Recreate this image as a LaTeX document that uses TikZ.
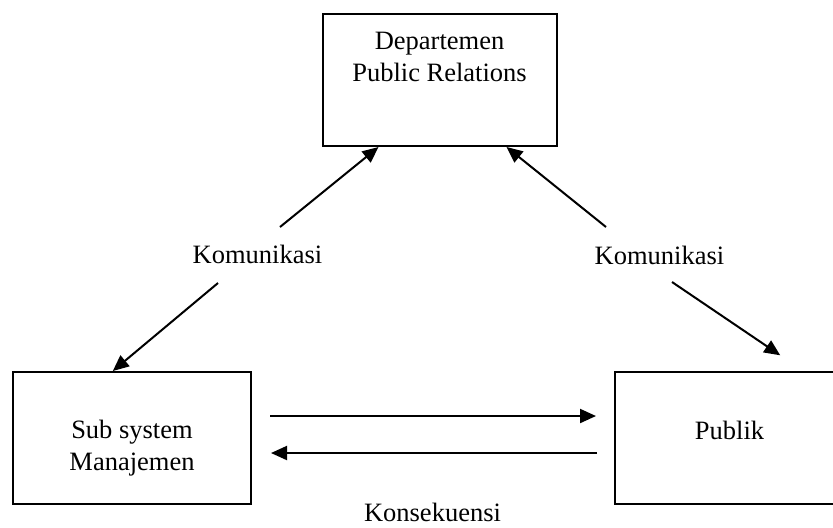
\documentclass[tikz,border=0pt]{standalone}
\usepackage{fontspec}
\setmainfont{Liberation Serif}
\usetikzlibrary{arrows.meta, calc}

\begin{document}
\begin{tikzpicture}[
    x=0.5pt, y=-0.5pt,
    font=\fontsize{13.25pt}{16pt}\selectfont,
    box/.style={draw, line width=1pt, minimum width=#1, minimum height=66pt, inner sep=0pt},
    lbl/.style={inner sep=0pt, align=center},
    arr/.style={-{Triangle[length=8pt, width=7pt]}, line width=1pt},
  ]
  \path[use as bounding box, clip] (0,0) rectangle (833,527);

  \node[box=117pt]   (dept)   at (439.5,80) {};
  \node[box=119pt]   (sub)    at (132,438) {};
  \node[box=114.5pt] (publik) at (729.5,438) {};

  \node[lbl, anchor=north] (deptText) at (439.5,31.5) {Departemen\\Public Relations};
  \node[lbl, anchor=north] (subText)  at (132,420) {Sub system\\Manajemen};
  \node[lbl, anchor=base]  (pubText)  at (729.5,439) {Publik};

  \node[lbl, anchor=base] (komL) at (257.5,263) {Komunikasi};
  \node[lbl, anchor=base] (komR) at (659.5,264) {Komunikasi};
  \node[lbl, anchor=base] (kons) at (432.5,521) {Konsekuensi};

  \coordinate (komL1) at (280,227);
  \coordinate (komL2) at (218,283);
  \coordinate (komR1) at (606,227);
  \coordinate (komR2) at (672,282);

  \draw[arr] (komL1) -- ($(dept.south west)!.2415!(dept.south east)$);
  \draw[arr] (komL2) -- ($(sub.north west)!.42!(sub.north east)$);
  \draw[arr] (komR1) -- ($(dept.south west)!.784!(dept.south east)$);
  \draw[arr, shorten >=14pt] (komR2) -- ($(publik.north west)!.82!(publik.north east)$);

  \draw[arr, shorten <=9pt, shorten >=9pt] ([yshift=11pt]sub.east) -- ([yshift=11pt]publik.west);
  \draw[arr, shorten <=8.5pt, shorten >=9.5pt] ([yshift=-7.5pt]publik.west) -- ([yshift=-7.5pt]sub.east);
\end{tikzpicture}
\end{document}
